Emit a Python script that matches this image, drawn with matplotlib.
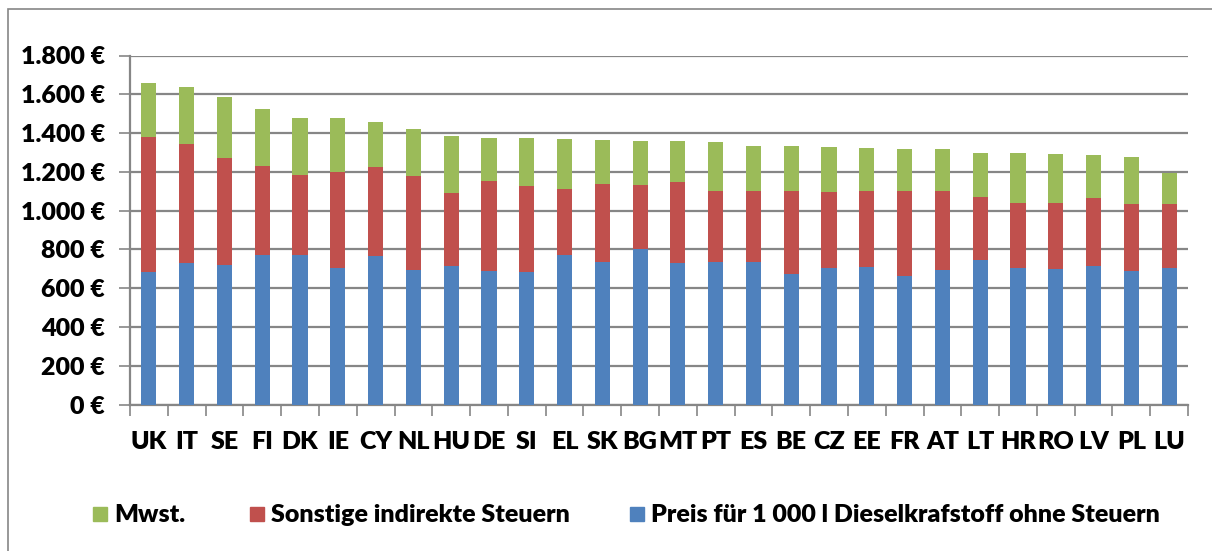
import numpy as np
import matplotlib.pyplot as plt
from matplotlib.patches import Rectangle
from matplotlib.ticker import FuncFormatter, MultipleLocator

plt.rcParams['font.family'] = ['Lato', 'DejaVu Sans']
plt.rcParams['font.weight'] = 'heavy'

# Dieselpreis je 1 000 l, nach Bestandteilen
countries = ['UK', 'IT', 'SE', 'FI', 'DK', 'IE', 'CY', 'NL', 'HU', 'DE', 'SI', 'EL', 'SK', 'BG',
             'MT', 'PT', 'ES', 'BE', 'CZ', 'EE', 'FR', 'AT', 'LT', 'HR', 'RO', 'LV', 'PL', 'LU']
price = [684, 730, 720, 771, 773, 705, 766, 694, 715, 689, 684, 771, 735, 804,
         730, 733, 733, 675, 703, 711, 662, 694, 746, 703, 699, 713, 689, 703]
other_tax = [695, 614, 550, 460, 410, 495, 458, 482, 376, 465, 441, 342, 402, 328,
             419, 368, 368, 426, 394, 392, 441, 405, 326, 335, 342, 350, 347, 333]
vat = [277, 295, 318, 294, 294, 277, 234, 246, 292, 220, 248, 255, 227, 225,
       208, 253, 231, 231, 231, 220, 217, 221, 225, 259, 250, 223, 239, 156]

labels = ['Mwst.', 'Sonstige indirekte Steuern', 'Preis für 1 000 l Dieselkrafstoff ohne Steuern']
c_price, c_other, c_vat = '#4F81BD', '#C0504D', '#9BBB59'
grey = '#868686'
fs = 18

W, H = 1212, 551
fig = plt.figure(figsize=(W / 100, H / 100), dpi=100)
ax = fig.add_axes([130 / W, 1 - 404.5 / H, (1188 - 130) / W, (404.5 - 55.5) / H])

x = np.arange(len(countries))
price = np.array(price)
other_tax = np.array(other_tax)
vat = np.array(vat)
bw = 0.4
ax.bar(x, price, bw, color=c_price, zorder=3)
ax.bar(x, other_tax, bw, bottom=price, color=c_other, zorder=3)
ax.bar(x, vat, bw, bottom=price + other_tax, color=c_vat, zorder=3)

ax.set_xlim(-0.5, len(countries) - 0.5)
ax.set_ylim(0, 1800)
ax.yaxis.set_major_locator(MultipleLocator(200))
ax.yaxis.set_major_formatter(FuncFormatter(lambda v, p: '{:,.0f} €'.format(v).replace(',', '.')))
ax.grid(axis='y', color=grey, lw=1.6, zorder=0)

ax.set_xticks(x)
ax.set_xticklabels(countries)
ax.set_xticks(np.arange(len(countries) + 1) - 0.5, minor=True)
ax.tick_params(axis='x', which='major', length=0, pad=19, labelsize=fs)
ax.tick_params(axis='x', which='minor', length=8, width=1.2, color=grey)
ax.tick_params(axis='y', length=8, width=1.2, color=grey, pad=10, labelsize=fs)

for s in ['top', 'right']:
    ax.spines[s].set_visible(False)
for s in ['left', 'bottom']:
    ax.spines[s].set_color(grey)
    ax.spines[s].set_linewidth(1.6)

# legend row
leg = [(93, c_vat, labels[0]), (250, c_other, labels[1]), (630, c_price, labels[2])]
for lx, col, txt in leg:
    fig.patches.append(Rectangle((lx / W, 1 - 521 / H), 14 / W, 14 / H, color=col,
                                 transform=fig.transFigure, figure=fig))
    fig.text((lx + 21) / W, 1 - 515 / H, txt, fontsize=fs, va='center', ha='left')

# outer chart frame
fig.patches.append(Rectangle((8 / W, -0.1), 1.2, 1.1 - 8.5 / H, fill=False, edgecolor=grey,
                             lw=1.2, transform=fig.transFigure, figure=fig))

fig.savefig('out.png', dpi=100)
